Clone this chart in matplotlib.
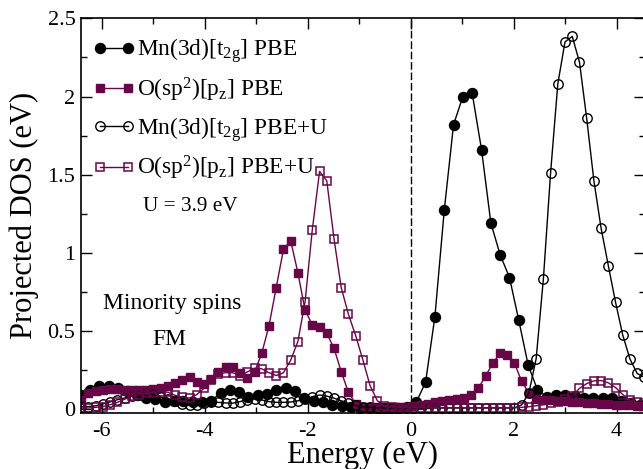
#!/usr/bin/python3
# encoding:utf-8
"""
Projected DOS of Mn(3d)[t2g] and O(sp2)[pz], PBE vs PBE+U, minority spins
"""

import numpy as np
import matplotlib
matplotlib.use("Agg")
import matplotlib.pyplot as plt
from matplotlib.ticker import MultipleLocator, FuncFormatter

plt.rcParams['font.family'] = ['Liberation Serif', 'DejaVu Serif']
plt.rcParams['mathtext.fontset'] = 'custom'
plt.rcParams['mathtext.rm'] = 'Liberation Serif'
plt.rcParams['mathtext.default'] = 'regular'
plt.rcParams['axes.unicode_minus'] = False

MAROON = '#670748'

# energy grids (eV)
energy_mn_pbe = np.round(-6.406 + 0.181 * np.arange(61), 3)
energy_grid = np.round(-6.395 + 0.1402 * np.arange(79), 3)

# Mn(3d)[t2g] PBE, filled circles
mn_pbe = [0.085, 0.12, 0.145, 0.145, 0.13, 0.11, 0.09, 0.07, 0.06, 0.045,
          0.05, 0.05, 0.045, 0.04, 0.05, 0.10, 0.12, 0.105, 0.075, 0.085,
          0.095, 0.12, 0.13, 0.11, 0.07, 0.05, 0.045, 0.025, 0.015, 0.008,
          0.005, 0.005, 0.005, 0.005, 0.005, 0.01,
          0.04, 0.17, 0.59, 1.27, 1.82, 2.00, 2.02, 1.66, 1.19, 0.985,
          0.84, 0.565, 0.28, 0.12, 0.075, 0.085, 0.09, 0.08, 0.07, 0.07,
          0.07, 0.065, 0.05, 0.035, 0.025]

# O(sp2)[pz] PBE, filled squares
o_pbe = [0.056, 0.098, 0.113, 0.122, 0.124, 0.124, 0.122, 0.12, 0.12, 0.122,
         0.124, 0.133, 0.148, 0.165, 0.185, 0.20, 0.173, 0.16, 0.19, 0.235,
         0.268, 0.265, 0.23, 0.195, 0.235, 0.355, 0.53, 0.776, 1.02, 1.077,
         0.87, 0.63, 0.537, 0.526, 0.483, 0.387, 0.237, 0.105, 0.03, 0.012,
         0.01, 0.01, 0.01, 0.01,
         0.01, 0.012, 0.017, 0.025, 0.032, 0.04, 0.047, 0.054, 0.06, 0.066,
         0.088, 0.13, 0.21, 0.29, 0.355, 0.345, 0.29, 0.175, 0.10, 0.06,
         0.057, 0.054, 0.05, 0.047, 0.044, 0.041, 0.038, 0.035, 0.032, 0.029,
         0.026, 0.023, 0.02, 0.018, 0.016]

# Mn(3d)[t2g] PBE+U, open circles
mn_pbeu = [0.012, 0.013, 0.018, 0.03, 0.043, 0.057, 0.068, 0.08, 0.09, 0.097,
           0.092, 0.075, 0.06, 0.05, 0.03, 0.02, 0.024, 0.033, 0.04, 0.04,
           0.036, 0.035, 0.045, 0.058, 0.062, 0.055, 0.045, 0.04, 0.04, 0.042,
           0.05, 0.062, 0.076, 0.087, 0.08, 0.067, 0.05, 0.035, 0.02, 0.012,
           0.008, 0.005,
           0.004, 0.004, 0.004, 0.004, 0.004, 0.004, 0.004, 0.004, 0.004, 0.004,
           0.004, 0.004, 0.004, 0.004, 0.004, 0.004, 0.004, 0.004, 0.004,
           0.024, 0.10, 0.32, 0.83, 1.51, 2.08, 2.35, 2.385, 2.22, 1.86,
           1.46, 1.156, 0.915, 0.68, 0.47, 0.317, 0.225, 0.20]

# O(sp2)[pz] PBE+U, open squares
o_pbeu = [0.003, 0.004, 0.008, 0.013, 0.025, 0.04, 0.06, 0.078, 0.088, 0.097,
          0.103, 0.108, 0.105, 0.085, 0.072, 0.068, 0.09, 0.13, 0.185, 0.222,
          0.23, 0.23, 0.21, 0.235, 0.258, 0.255, 0.23, 0.212, 0.23, 0.31,
          0.43, 0.686, 1.146, 1.52, 1.46, 1.09, 0.776, 0.605, 0.468, 0.312,
          0.147, 0.051, 0.015, 0.01,
          0.006, 0.006, 0.006, 0.006, 0.006, 0.006, 0.006, 0.006, 0.006, 0.006,
          0.006, 0.006, 0.006, 0.006, 0.006, 0.006, 0.006,
          0.008, 0.012, 0.018, 0.025, 0.035,
          0.045, 0.06, 0.08, 0.13, 0.16, 0.178, 0.18, 0.165, 0.135, 0.09,
          0.055, 0.04, 0.035]

labels = [r'Mn(3d)[t$_{2g}$] PBE', r'O(sp$^2$)[p$_z$] PBE',
          r'Mn(3d)[t$_{2g}$] PBE+U', r'O(sp$^2$)[p$_z$] PBE+U']


def main():
    fig = plt.figure(figsize=(6.43, 4.69), dpi=100)
    ax = fig.add_axes([0.126, 0.1188, 0.877, 0.8418])

    ax.axvline(0, color='k', lw=1.0, dashes=(5.5, 2.0), zorder=1)

    h1, = ax.plot(energy_mn_pbe, mn_pbe, '-o', color='k', lw=1.0, ms=7.2,
                  label=labels[0])
    h2, = ax.plot(energy_grid, o_pbe, '-s', color=MAROON, lw=1.0, ms=5.8,
                  label=labels[1])
    h3, = ax.plot(energy_grid, mn_pbeu, '-o', color='k', lw=1.0, ms=6.8,
                  mfc='none', mew=1.0, label=labels[2])
    h4, = ax.plot(energy_grid, o_pbeu, '-s', color=MAROON, lw=1.0, ms=5.4,
                  mfc='none', mew=1.1, label=labels[3])

    ax.set_xlim(-6.4, 4.55)
    ax.set_ylim(-0.03, 2.5)

    ax.xaxis.set_major_locator(MultipleLocator(2))
    ax.xaxis.set_minor_locator(MultipleLocator(1))
    ax.yaxis.set_major_locator(MultipleLocator(0.5))
    ax.yaxis.set_minor_locator(MultipleLocator(0.25))
    ax.yaxis.set_major_formatter(FuncFormatter(lambda v, p: '%g' % v))
    ax.tick_params(which='both', direction='in', top=True, right=True,
                   labelsize=16, width=1.0)
    ax.tick_params(which='major', length=8)
    ax.tick_params(which='minor', length=4.5)
    ax.tick_params(axis='x', pad=6)
    ax.tick_params(axis='y', pad=4)
    for sp in ax.spines.values():
        sp.set_linewidth(1.2)

    ax.set_xlabel('Energy (eV)', fontsize=22, labelpad=0)
    ax.set_ylabel('Projected DOS (eV)', fontsize=22, labelpad=6)

    ax.legend(handles=[h1, h2, h3, h4], loc='upper left',
              bbox_to_anchor=(0.022, 0.955), frameon=False, fontsize=16.8,
              numpoints=2, handlelength=1.8, handletextpad=0.08,
              borderpad=0, borderaxespad=0, labelspacing=0.46)

    ax.text(-4.28, 1.269, 'U = 3.9 eV', fontsize=15.3, ha='center',
            va='baseline')
    ax.text(-4.62, 0.637, 'Minority spins', fontsize=17, ha='center',
            va='baseline')
    ax.text(-4.69, 0.408, 'FM', fontsize=17, ha='center', va='baseline')

    fig.savefig('out.png', dpi=100)


if __name__ == "__main__":
    main()
